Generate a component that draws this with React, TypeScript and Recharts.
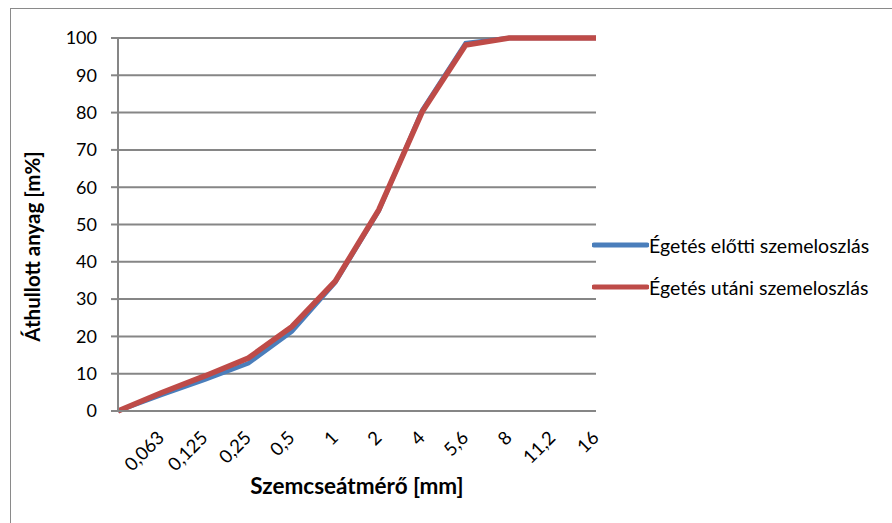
import React from "react";
import { LineChart, Line, XAxis, YAxis, CartesianGrid, Legend, Label } from "recharts";

// Grain size classes (mm); the first class is the origin of the curve
const sizes = ["", "0,063", "0,125", "0,25", "0,5", "1", "2", "4", "5,6", "8", "11,2", "16"];
// Passing material (m%) before firing
const beforeFiring = [0, 4.3, 8.4, 12.8, 21.3, 34.5, 53.6, 80.6, 98.6, 100, 100, 100];
// Passing material (m%) after firing
const afterFiring = [0, 4.9, 9.4, 14.2, 22.6, 34.8, 53.9, 80.2, 98.1, 100, 100, 100];
const yTicks = [0, 10, 20, 30, 40, 50, 60, 70, 80, 90, 100];

const seriesNames = ["Égetés előtti szemeloszlás", "Égetés utáni szemeloszlás"];
const colors = ["#4a7ebb", "#be4b48"];

const data = sizes.map((s, i) => ({
  size: s,
  before: beforeFiring[i],
  after: afterFiring[i],
}));

const FONT = "Lato, 'Open Sans', sans-serif";

const XTick = (props: any) => {
  const { x, y, payload } = props;
  return (
    <g transform={`translate(${x + 4},${y + 28})`}>
      <text
        x={0}
        y={0}
        textAnchor="end"
        transform="rotate(-45)"
        fontFamily={FONT}
        fontSize={18.5}
        fill="#000"
      >
        {payload.value}
      </text>
    </g>
  );
};

const LegendContent = () => (
  <div style={{ fontFamily: FONT, fontSize: 19.5, color: "#000" }}>
    {seriesNames.map((name, i) => (
      <div
        key={name}
        style={{ display: "flex", alignItems: "center", height: 42, whiteSpace: "nowrap" }}
      >
        <svg width={57} height={8} style={{ display: "block" }}>
          <line x1={2} y1={4} x2={55} y2={4} stroke={colors[i]} strokeWidth={5} strokeLinecap="round" />
        </svg>
        <span>{name}</span>
      </div>
    ))}
  </div>
);

export default function App() {
  return (
    <div
      style={{
        position: "absolute",
        left: 0,
        top: 0,
        width: 892,
        height: 523,
        overflow: "hidden",
        background: "#fff",
      }}
    >
      <div
        style={{
          position: "absolute",
          left: 10,
          top: 8,
          width: 920,
          height: 560,
          border: "1.5px solid #8a8a8a",
        }}
      />
      <LineChart
        width={892}
        height={523}
        data={data}
        margin={{ top: 38, right: 296, bottom: 0, left: 0 }}
      >
        <CartesianGrid vertical={false} stroke="#868686" strokeWidth={2} />
        <XAxis
          dataKey="size"
          interval={0}
          tickLine={false}
          axisLine={{ stroke: "#868686", strokeWidth: 2 }}
          tickSize={0}
          tickMargin={0}
          height={112}
          tick={<XTick />}
        >
          <Label
            value="Szemcseátmérő [mm]"
            position="insideBottom"
            offset={29}
            style={{ fontFamily: FONT, fontSize: 22.5, fontWeight: 700, fill: "#000" }}
          />
        </XAxis>
        <YAxis
          width={118}
          domain={[0, 100]}
          ticks={yTicks}
          interval={0}
          axisLine={{ stroke: "#868686", strokeWidth: 2 }}
          tickLine={{ stroke: "#868686", strokeWidth: 2 }}
          tickSize={7}
          tickMargin={14}
          tick={{ fontFamily: FONT, fontSize: 18, fill: "#000" }}
        >
          <Label
            value="Áthullott anyag [m%]"
            angle={-90}
            position="insideLeft"
            offset={0}
            dx={33}
            dy={22}
            style={{ textAnchor: "middle", fontFamily: FONT, fontSize: 20.5, fontWeight: 700, fill: "#000" }}
          />
        </YAxis>
        <Legend
          layout="vertical"
          align="center"
          verticalAlign="middle"
          content={<LegendContent />}
          wrapperStyle={{ position: "absolute", left: 592, top: 224, width: 300, height: 84 }}
        />
        <Line
          type="linear"
          dataKey="before"
          name={seriesNames[0]}
          stroke={colors[0]}
          strokeWidth={4.5}
          dot={false}
          isAnimationActive={false}
        />
        <Line
          type="linear"
          dataKey="after"
          name={seriesNames[1]}
          stroke={colors[1]}
          strokeWidth={5.5}
          dot={false}
          isAnimationActive={false}
        />
      </LineChart>
    </div>
  );
}
